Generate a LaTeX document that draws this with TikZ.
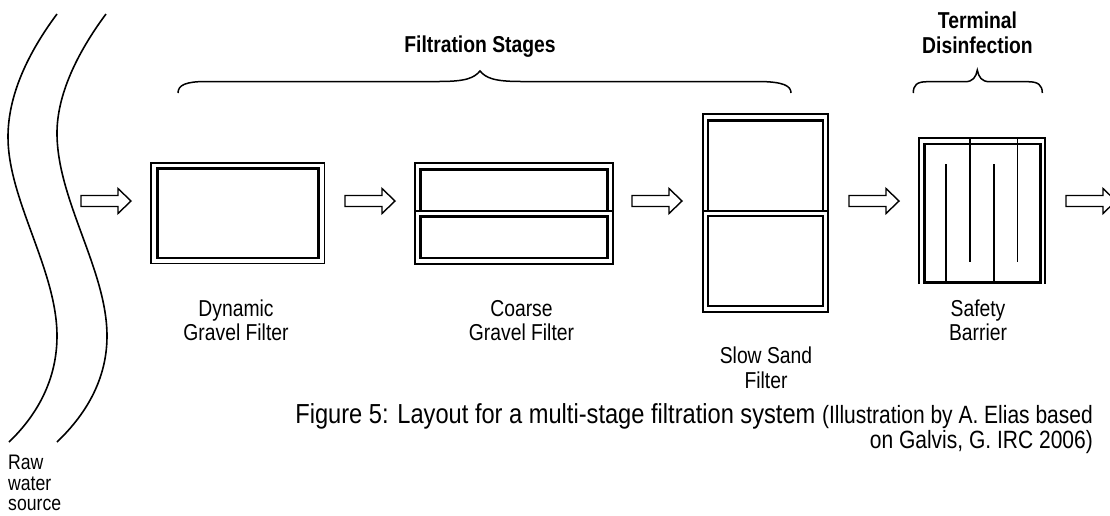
\documentclass[tikz,border=0pt]{standalone}
\usepackage{fontspec}
\setmainfont{Liberation Sans}[FakeStretch=0.84]
\newfontfamily\capfont{Liberation Sans}[FakeStretch=0.86]
\newfontfamily\narrowfont{Liberation Sans}[FakeStretch=0.84]
\begin{document}
\begin{tikzpicture}[x=1pt,y=-1pt,
  outerline/.style={line width=1.8pt},
  innerline/.style={line width=2.6pt},
  thinline/.style={line width=1.5pt},
  river/.style={line width=1.6pt},
  brace/.style={line width=1.5pt},
  lbl/.style={font=\fontsize{23}{25}\selectfont, anchor=base, inner sep=0pt},
  title/.style={font=\fontsize{23}{25}\selectfont\bfseries, anchor=base, inner sep=0pt},
  srcfont/.style={font=\fontsize{21}{20}\selectfont, anchor=base west, inner sep=0pt},
  blockarrow/.pic={\draw[line width=1.4pt, line join=miter] (0,-5.5) -- (37,-5.5) -- (37,-12.5) -- (50,0) -- (37,12.5) -- (37,5.5) -- (0,5.5) -- cycle;}
]
\useasboundingbox (0,0) rectangle (1110,515);

% river banks
\draw[river] (57,14) .. controls (28,53) and (8,95) .. (8,137)
  .. controls (8,200) and (57,270) .. (57,336)
  .. controls (57,385) and (32,420) .. (9,442);
\draw[river] (106,14) .. controls (77,53) and (57,95) .. (57,133)
  .. controls (57,200) and (107,270) .. (107,336)
  .. controls (107,385) and (80,420) .. (57,442);
\node[srcfont] (raw) at (8,469) {Raw};
\node[srcfont] (water) at (8,490) {water};
\node[srcfont] (source) at (8,510) {source};

% arrows
\pic at (81,201) {blockarrow};
\pic at (345,201) {blockarrow};
\pic at (632,201) {blockarrow};
\pic at (849,201) {blockarrow};
\pic at (1066,201) {blockarrow};

% Dynamic gravel filter
\draw[outerline] (151,163) rectangle (324.5,263.5);
\draw[innerline] (157.5,168.7) rectangle (318.5,258);
\node[lbl] (dgf1) at (236,316) {Dynamic};
\node[lbl] (dgf2) at (236,340) {Gravel Filter};

% Coarse gravel filter
\draw[outerline] (415,163) rectangle (612.7,264);
\draw[innerline] (414,211) -- (613.7,211);
\draw[innerline] (420.5,169.5) rectangle (607.5,211);
\draw[innerline] (420.5,216.3) rectangle (607.5,258);
\node[lbl] (cgf1) at (521.5,316) {Coarse};
\node[lbl] (cgf2) at (521.5,340) {Gravel Filter};

% Slow sand filter
\draw[outerline] (703,114.3) rectangle (828,311.7);
\draw[innerline] (702,211) -- (829,211);
\draw[innerline] (708,120.3) rectangle (823,211);
\draw[innerline] (708,216) rectangle (823,306);
\node[lbl] (ssf1) at (766,363) {Slow Sand};
\node[lbl] (ssf2) at (766,388) {Filter};

% Safety barrier
\draw[outerline] (919.3,284) -- (919.3,138.3) -- (1045,138.3) -- (1045,284);
\draw[innerline] (924.7,144) rectangle (1040.3,282.7);
\draw[thinline] (970,138.3) -- (970,262);
\draw[thinline] (1017.7,138.3) -- (1017.7,262);
\draw[thinline] (946,164) -- (946,283);
\draw[thinline] (994,164) -- (994,283);
\node[lbl] (sb1) at (978,316) {Safety};
\node[lbl] (sb2) at (978,340) {Barrier};

% braces
\draw[brace] (178,93) .. controls (178,85) and (186,81.5) .. (206,81.5) -- (439,81.5)
  .. controls (466,81.5) and (474,78) .. (480,71)
  .. controls (486,78) and (494,81.5) .. (521,81.5) -- (757,81.5)
  .. controls (784,81.5) and (791,86) .. (791,93);
\node[title] (fs) at (480,52) {Filtration Stages};

\draw[brace] (913.3,93) .. controls (913.3,85) and (917,81.7) .. (927,81.7) -- (965,81.7)
  .. controls (973,81.7) and (976,77) .. (977.3,70)
  .. controls (978.6,77) and (981.6,81.7) .. (989.6,81.7) -- (1028,81.7)
  .. controls (1038,81.7) and (1042.3,85) .. (1042.3,93);
\node[title] (td1) at (977.5,28) {Terminal};
\node[title] (td2) at (977.5,53) {Disinfection};

% caption (base anchor = baseline of the last line)
\node[font=\capfont\fontsize{27.5}{22}\selectfont, anchor=base east, align=right, inner sep=0pt] (cap) at (1093,448)
  {Figure 5: Layout for a multi-stage filtration system {\narrowfont\fontsize{25}{22}\selectfont (Illustration by A. Elias based}\\
   {\narrowfont\fontsize{25}{22}\selectfont on Galvis, G. IRC 2006)}};
\end{tikzpicture}
\end{document}
